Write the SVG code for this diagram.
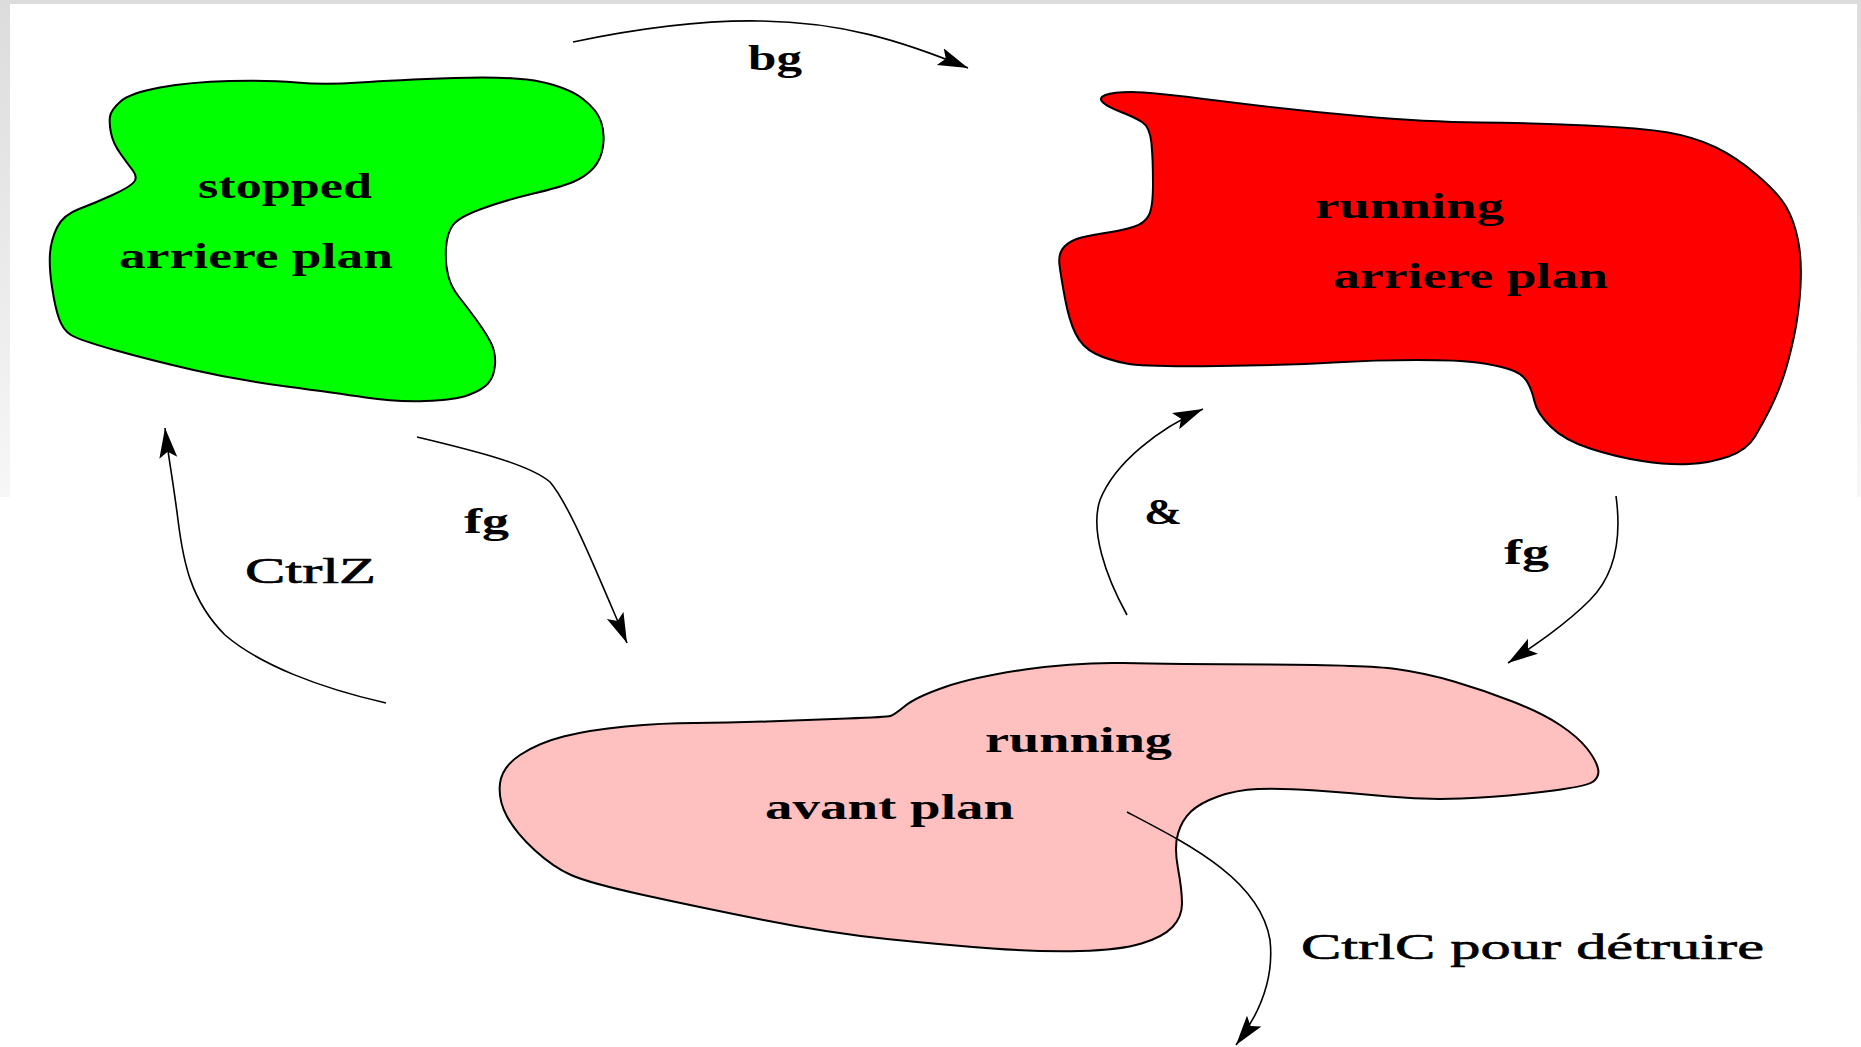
<svg xmlns="http://www.w3.org/2000/svg" width="1861" height="1047" viewBox="0 0 1861 1047">
<style>
.blob{stroke:#000;stroke-width:2;stroke-linejoin:round}
.conn{fill:none;stroke:#000;stroke-width:1.6;marker-end:url(#arr)}
text{font-family:"Liberation Serif","Times New Roman",serif;font-size:36px;font-weight:bold;fill:#000}
text.reg{font-weight:normal;stroke:#000;stroke-width:0.6}
</style>
<defs>
<linearGradient id="fade" x1="0" y1="0" x2="0" y2="1">
<stop offset="0" stop-color="#dcdcdc"/>
<stop offset="1" stop-color="#f7f7f7"/>
</linearGradient>
<marker id="arr" markerUnits="userSpaceOnUse" markerWidth="34" markerHeight="22" refX="30" refY="9" orient="auto">
<path d="M0,0 L30,9 L0,18 L6,9 z" fill="#000"/>
</marker>
</defs>
<rect x="0" y="0" width="1861" height="1047" fill="#fff"/>
<rect x="0" y="0" width="1861" height="4" fill="#dcdcdc"/>
<rect x="0" y="0" width="10" height="497" fill="url(#fade)"/>
<rect x="1857" y="0" width="4" height="497" fill="url(#fade)"/>

<g id="node-stopped">
<path class="blob" fill="#00ff00" d="M110,116.5 Q111,110 120.5,101.5 Q130,93 160,87.5 Q190,82 229.5,81 Q269,80 296.5,82.5 Q324,85 359.5,82.5 Q395,80 454.5,78 Q514,76 541.5,82 Q569,88 583,99 Q597,110 601,121.5 Q605,133 603,146.5 Q601,160 593,168.5 Q585,177 573,182 Q561,187 533.5,193.5 Q506,200 482.5,208.5 Q459,217 453,225 Q447,233 446,248 Q445,263 448,275 Q451,287 459,297 Q467,307 476.5,320 Q486,333 491,343 Q496,353 495,365 Q494,377 488,383.5 Q482,390 468.5,395 Q455,400 425,401 Q395,402 365.5,397.5 Q336,393 286.5,386.5 Q237,380 193.5,370 Q150,360 114.5,350 Q79,340 71,335 Q63,330 59,318.5 Q55,307 52,287 Q49,267 50,253.5 Q51,240 57,227.5 Q63,215 79,209 Q95,203 112.5,195 Q130,187 134,182 Q138,177 132.5,170 Q127,163 120,153 Q113,143 111,133 Q109,123 110,116.5 Z"/>
<text x="198" y="198" textLength="174" lengthAdjust="spacingAndGlyphs">stopped</text>
<text x="119" y="268" textLength="274" lengthAdjust="spacingAndGlyphs">arriere plan</text>
</g>

<g id="node-running-bg">
<path class="blob" fill="#ff0000" d="M1103,102.5 Q1098,98 1105.5,95 Q1113,92 1131.5,92 Q1150,92 1220.5,101 Q1291,110 1359,116 Q1427,122 1479.5,122.5 Q1532,123 1587,125.5 Q1642,128 1668,132.5 Q1694,137 1715,147 Q1736,157 1757,175 Q1778,193 1786,206.5 Q1794,220 1798,240 Q1802,260 1800.5,286.5 Q1799,313 1794,336.5 Q1789,360 1783.5,376.5 Q1778,393 1770.5,408 Q1763,423 1755,436.5 Q1747,450 1728.5,456.5 Q1710,463 1689,464 Q1668,465 1642,461 Q1616,457 1590,448.5 Q1564,440 1550.5,426.5 Q1537,413 1534.5,401.5 Q1532,390 1527,381.5 Q1522,373 1508.5,369 Q1495,365 1477,362.5 Q1459,360 1417,360 Q1375,360 1333,362.5 Q1291,365 1218,366 Q1145,367 1126.5,363.5 Q1108,360 1095,353.5 Q1082,347 1075.5,333.5 Q1069,320 1065,298.5 Q1061,277 1059.5,265 Q1058,253 1064.5,246.5 Q1071,240 1081.5,237.5 Q1092,235 1108,232.5 Q1124,230 1134.5,226.5 Q1145,223 1149,215 Q1153,207 1153,183.5 Q1153,160 1151.5,143.5 Q1150,127 1142,122 Q1134,117 1121,112 Q1108,107 1103,102.5 Z"/>
<text x="1315" y="218" textLength="189" lengthAdjust="spacingAndGlyphs">running</text>
<text x="1333" y="288" textLength="275" lengthAdjust="spacingAndGlyphs">arriere plan</text>
</g>

<g id="node-running-fg">
<path class="blob" fill="#ffc0c0" d="M890.5,716 Q894,715 905,706 Q916,697 945,687 Q974,677 1025,669.5 Q1076,662 1123.5,663 Q1171,664 1269,664.5 Q1367,665 1396,669 Q1425,673 1454,681.5 Q1483,690 1512.5,701.5 Q1542,713 1560,725 Q1578,737 1587,748.5 Q1596,760 1598,768.5 Q1600,777 1592.5,782 Q1585,787 1541.5,792 Q1498,797 1461.5,798.5 Q1425,800 1388.5,796.5 Q1352,793 1316,790.5 Q1280,788 1258,789 Q1236,790 1218,796.5 Q1200,803 1191,811.5 Q1182,820 1178,833.5 Q1174,847 1178,868.5 Q1182,890 1182,903.5 Q1182,917 1172.5,927 Q1163,937 1141.5,943.5 Q1120,950 1080,951 Q1040,952 992.5,948.5 Q945,945 887,939 Q829,933 763.5,920 Q698,907 643.5,895 Q589,883 571,875 Q553,867 534.5,850 Q516,833 507,816.5 Q498,800 500,783.5 Q502,767 520,755 Q538,743 563.5,736.5 Q589,730 625.5,726.5 Q662,723 694.5,723 Q727,723 767,721.5 Q807,720 847,718.5 Q887,717 890.5,716 Z"/>
<text x="985" y="752" textLength="187" lengthAdjust="spacingAndGlyphs">running</text>
<text x="765" y="819" textLength="249" lengthAdjust="spacingAndGlyphs">avant plan</text>
</g>

<g id="connectors">
<path id="c-bg" class="conn" d="M573,42 C640,28 700,20 760,21 C840,22 900,40 968,68"/>
<path id="c-fg1" class="conn" d="M417,437 C480,452 530,465 550,482 C570,505 600,580 627,643"/>
<path id="c-ctrlz" class="conn" d="M386,703 C320,688 260,665 225,635 C190,600 183,560 178,520 C173,480 168,455 165,428"/>
<path id="c-amp" class="conn" d="M1127,615 C1105,575 1090,530 1100,500 C1115,462 1160,428 1203,409"/>
<path id="c-fg2" class="conn" d="M1616,496 C1622,540 1615,575 1590,600 C1565,625 1535,645 1508,663"/>
<path id="c-ctrlc" class="conn" d="M1127,812 C1190,845 1260,880 1270,940 C1275,985 1255,1020 1236,1045"/>
</g>

<g id="connector-labels">
<text x="748" y="70" textLength="54" lengthAdjust="spacingAndGlyphs">bg</text>
<text x="464" y="533" textLength="45" lengthAdjust="spacingAndGlyphs">fg</text>
<text class="reg" x="245" y="583" textLength="131" lengthAdjust="spacingAndGlyphs">CtrlZ</text>
<text x="1144" y="524" textLength="38" lengthAdjust="spacingAndGlyphs">&amp;</text>
<text x="1504" y="564" textLength="45" lengthAdjust="spacingAndGlyphs">fg</text>
<text class="reg" x="1301" y="959" textLength="463" lengthAdjust="spacingAndGlyphs">CtrlC pour détruire</text>
</g>
</svg>
